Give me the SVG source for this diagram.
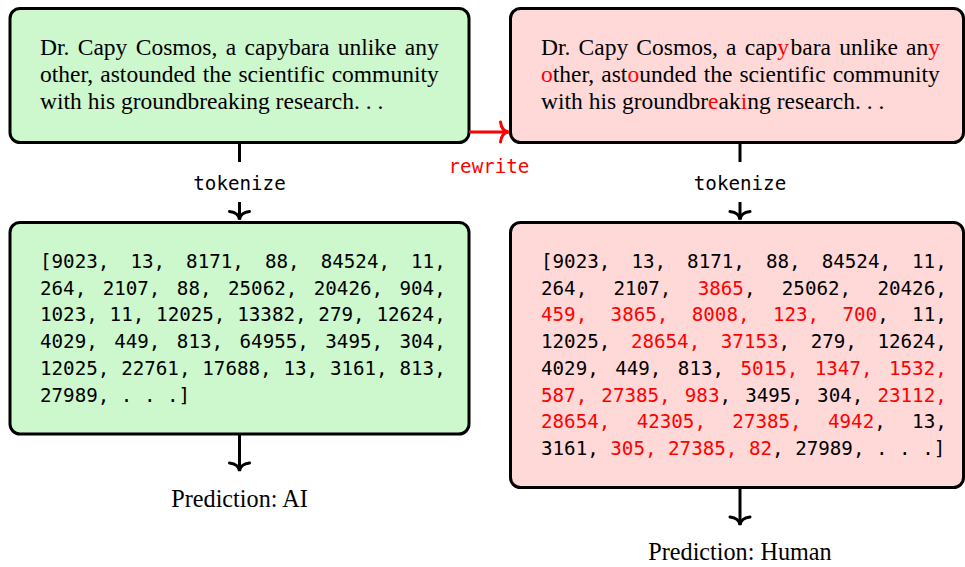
<svg xmlns="http://www.w3.org/2000/svg" width="965" height="567" viewBox="0 0 965 567">
<style>
.box{stroke:#000;stroke-width:3}
.g{fill:#cdf7cd}
.p{fill:#ffd8d8}
.serif{font-family:"Liberation Serif","Times New Roman",serif;font-size:23.5px;fill:#000}
.pred{font-family:"Liberation Serif","Times New Roman",serif;font-size:24.2px;fill:#000}
.mono{font-family:"DejaVu Sans Mono",monospace;font-size:19.2px;fill:#000}
.r{fill:#ff0000}
.ln{stroke:#000;stroke-width:3;fill:none}
.lnr{stroke:#ff0000;stroke-width:3;fill:none}
</style>
<defs>
<marker id="ab" viewBox="-12 -13 14 26" refX="0" refY="0" markerWidth="14" markerHeight="26" markerUnits="userSpaceOnUse" orient="auto">
<path d="M-8,-10 Q-7,-1 0,0 Q-7,1 -8,10" fill="none" stroke="#000" stroke-width="3" stroke-linecap="round"/>
</marker>
<marker id="ar" viewBox="-12 -13 14 26" refX="0" refY="0" markerWidth="14" markerHeight="26" markerUnits="userSpaceOnUse" orient="auto">
<path d="M-8,-10 Q-7,-1 0,0 Q-7,1 -8,10" fill="none" stroke="#ff0000" stroke-width="3" stroke-linecap="round"/>
</marker>
</defs>

<g id="text-ai">
<rect class="box g" x="10" y="8.5" width="459" height="134" rx="10"/>
<text class="serif" x="40" y="54.5" style="word-spacing:2.5px">Dr. Capy Cosmos, a capybara unlike any</text>
<text class="serif" x="40" y="81.5" style="word-spacing:1.2px">other, astounded the scientific community</text>
<text class="serif" x="40" y="108.5">with his groundbreaking research. . .</text>
</g>

<g id="text-human">
<rect class="box p" x="510.5" y="8.5" width="453" height="134" rx="10"/>
<text class="serif" x="541" y="54.5" style="word-spacing:2.3px">Dr. Capy Cosmos, a cap<tspan class="r">y</tspan><tspan dx="1.5">bara</tspan> unlike an<tspan class="r">y</tspan></text>
<text class="serif" x="541" y="81.5" style="word-spacing:1.2px"><tspan class="r">o</tspan>ther, ast<tspan class="r">o</tspan>unded the scientific community</text>
<text class="serif" x="541" y="108.5">with his groundbr<tspan class="r">e</tspan>ak<tspan class="r">i</tspan>ng research. . .</text>
</g>

<g id="tokens-ai">
<rect class="box g" x="10" y="222.5" width="459" height="211.5" rx="10"/>
<text class="mono" x="40" y="268" style="word-spacing:9.52px">[9023, 13, 8171, 88, 84524, 11,</text>
<text class="mono" x="40" y="294.7" style="word-spacing:4.9px">264, 2107, 88, 25062, 20426, 904,</text>
<text class="mono" x="40" y="321.4" style="word-spacing:0.28px">1023, 11, 12025, 13382, 279, 12624,</text>
<text class="mono" x="40" y="348.1" style="word-spacing:4.9px">4029, 449, 813, 64955, 3495, 304,</text>
<text class="mono" x="40" y="374.8" style="word-spacing:0.28px">12025, 22761, 17688, 13, 3161, 813,</text>
<text class="mono" x="40" y="401.5">27989, . . .]</text>
</g>

<g id="tokens-human">
<rect class="box p" x="510.5" y="222.5" width="453" height="265" rx="10"/>
<text class="mono" x="541" y="268" style="word-spacing:9.52px">[9023, 13, 8171, 88, 84524, 11,</text>
<text class="mono" x="541" y="294.7" style="word-spacing:14.8px">264, 2107, <tspan class="r">3865</tspan>, 25062, 20426,</text>
<text class="mono" x="541" y="321.4" style="word-spacing:11.84px"><tspan class="r">459, 3865, 8008, 123, 700</tspan>, 11,</text>
<text class="mono" x="541" y="348.1" style="word-spacing:9.03px">12025, <tspan class="r">28654, 37153</tspan>, 279, 12624,</text>
<text class="mono" x="541" y="374.8" style="word-spacing:4.9px">4029, 449, 813, <tspan class="r">5015, 1347, 1532,</tspan></text>
<text class="mono" x="541" y="401.5" style="word-spacing:2.6px"><tspan class="r">587, 27385, 983</tspan>, 3495, 304, <tspan class="r">23112,</tspan></text>
<text class="mono" x="541" y="428.2" style="word-spacing:14.8px"><tspan class="r">28654, 42305, 27385, 4942</tspan>, 13,</text>
<text class="mono" x="541" y="454.9">3161, <tspan class="r">305, 27385, 82</tspan>, 27989, . . .]</text>
</g>

<g id="pred-ai">
<text class="pred" x="239.5" y="506.5" text-anchor="middle">Prediction: AI</text>
</g>

<g id="pred-human">
<text class="pred" x="740" y="560" text-anchor="middle">Prediction: Human</text>
</g>

<g id="connectors">
<line class="lnr" x1="469" y1="132" x2="508.5" y2="132" marker-end="url(#ar)"/>
<text class="mono r" x="489" y="173" text-anchor="middle">rewrite</text>
<line class="ln" x1="239.5" y1="143" x2="239.5" y2="162"/>
<text class="mono" x="239.5" y="189.5" text-anchor="middle">tokenize</text>
<line class="ln" x1="239.5" y1="202" x2="239.5" y2="219.5" marker-end="url(#ab)"/>
<line class="ln" x1="740" y1="143" x2="740" y2="162"/>
<text class="mono" x="740" y="189.5" text-anchor="middle">tokenize</text>
<line class="ln" x1="740" y1="202" x2="740" y2="219.5" marker-end="url(#ab)"/>
<line class="ln" x1="239.5" y1="434" x2="239.5" y2="471" marker-end="url(#ab)"/>
<line class="ln" x1="740" y1="487" x2="740" y2="525" marker-end="url(#ab)"/>
</g>
</svg>
